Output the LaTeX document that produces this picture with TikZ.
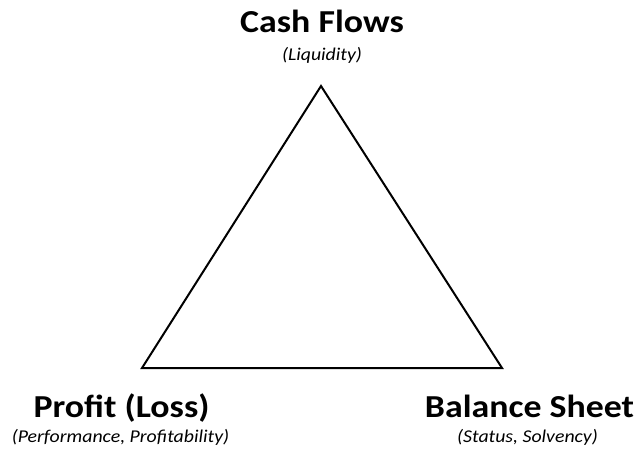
\documentclass[tikz,border=0pt]{standalone}
\usepackage{fontspec}
\setmainfont{Carlito}
\begin{document}
\begin{tikzpicture}[x=1pt,y=-1pt,
  title/.style={font=\fontsize{32}{36}\selectfont\bfseries, inner sep=0pt, anchor=base, xscale=1.12},
  sub/.style={font=\fontsize{18}{20}\selectfont\itshape, inner sep=0pt, anchor=base, xscale=1.1},
  edge/.style={line width=2pt, line join=miter}]
\useasboundingbox (0,0) rectangle (636,452);
\coordinate (top) at (321,86);
\coordinate (bl) at (142,368);
\coordinate (br) at (502,368);
\draw[edge] (top) -- (bl) -- (br) -- cycle;
\node[title] (cf) at (322,33) {Cash Flows};
\node[sub] (liq) at (322,60) {(Liquidity)};
\node[title] (pl) at (121.5,417) {Profit (Loss)};
\node[sub] (perf) at (120.5,442) {(Performance, Profitability)};
\node[title] (bs) at (529.5,417) {Balance Sheet};
\node[sub] (stat) at (527.5,442) {(Status, Solvency)};
\end{tikzpicture}
\end{document}
